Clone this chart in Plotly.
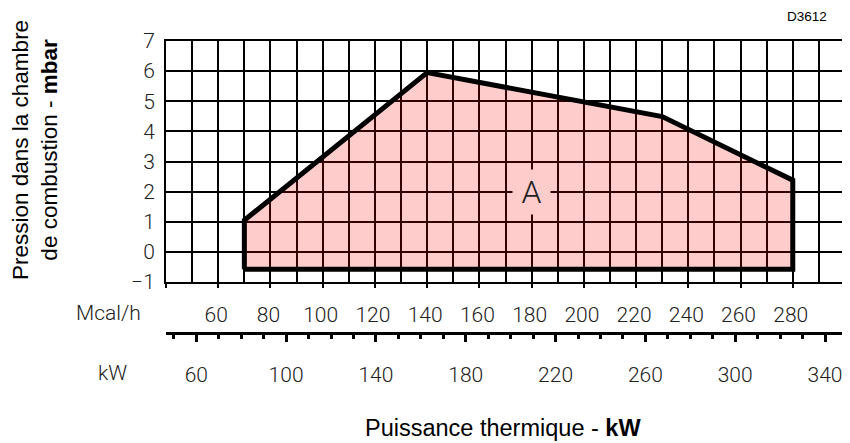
import plotly.graph_objects as go

# ---- data ----
# firing range outline, power in Mcal/h, pressure in mbar
outline_power_mcal = [70, 70, 140, 230, 280, 280, 70]
outline_pressure_mbar = [-0.58, 1.05, 5.95, 4.49, 2.38, -0.58, -0.58]

pressure_ticks = [-1, 0, 1, 2, 3, 4, 5, 6, 7]
mcal_ticks = [60, 80, 100, 120, 140, 160, 180, 200, 220, 240, 260, 280]
kw_ticks = [60, 100, 140, 180, 220, 260, 300, 340]

MCAL_TO_KW = 1.163
grid_range_mcal = [40, 300]
grid_range_kw = [grid_range_mcal[0] * MCAL_TO_KW, grid_range_mcal[1] * MCAL_TO_KW]

zone_label = "A"
drawing_id = "D3612"

# ---- styling ----
TICK_FONT = dict(family="Roboto", size=21, color="#222222", weight=300)
YTITLE_FONT = dict(family="Liberation Sans, Arial", size=22.5, color="#000")
XTITLE_FONT = dict(family="Liberation Sans, Arial", size=23.5, color="#000")
BLACK = "#000000"

# the page body adds an 8 px offset; lay the figure out in screen pixels
OFF = 8
W, H = 850 - OFF, 443 - OFF
L, T = 166 - OFF, 41 - OFF
R = W - (845 - OFF)
B = H - (383 - OFF)
PH = H - T - B
PW = W - L - R


def py(ypix):
    return (H - B - (ypix - OFF)) / PH


def px(xpix):
    return ((xpix - OFF) - L) / PW


fig = go.Figure()

fig.add_trace(go.Scatter(
    x=outline_power_mcal,
    y=outline_pressure_mbar,
    mode="lines",
    fill="toself",
    fillcolor="rgba(255,0,0,0.2)",
    line=dict(color=BLACK, width=5),
    hoverinfo="skip",
    showlegend=False,
))

# invisible carriers so the two scale axes get drawn
fig.add_trace(go.Scatter(x=mcal_ticks, y=[None] * len(mcal_ticks), xaxis="x2", yaxis="y",
                         mode="markers", marker=dict(opacity=0), hoverinfo="skip", showlegend=False))
fig.add_trace(go.Scatter(x=kw_ticks, y=[None] * len(kw_ticks), xaxis="x3", yaxis="y",
                         mode="markers", marker=dict(opacity=0), hoverinfo="skip", showlegend=False))

fig.update_layout(
    template="none",
    width=W,
    height=H,
    margin=dict(l=L, r=R, t=T, b=B, autoexpand=False),
    paper_bgcolor="white",
    plot_bgcolor="white",
    showlegend=False,
    xaxis=dict(
        range=grid_range_mcal,
        tick0=40,
        dtick=20,
        ticks="outside",
        ticklen=4,
        tickwidth=2,
        tickcolor=BLACK,
        showticklabels=False,
        showgrid=True,
        gridcolor=BLACK,
        gridwidth=2,
        minor=dict(dtick=10, tick0=40, showgrid=True, gridcolor=BLACK, gridwidth=2, ticks=""),
        showline=True,
        linecolor=BLACK,
        linewidth=2,
        mirror=True,
        zeroline=False,
        anchor="y",
        automargin=False,
    ),
    yaxis=dict(
        range=[-1, 7],
        tickvals=pressure_ticks,
        domain=[py(282), 1],
        showgrid=True,
        gridcolor=BLACK,
        gridwidth=2,
        zeroline=True,
        zerolinecolor=BLACK,
        zerolinewidth=2,
        showline=True,
        linecolor=BLACK,
        linewidth=2,
        mirror=True,
        ticks="",
        ticklabelstandoff=5,
        tickfont=TICK_FONT,
        automargin=False,
    ),
    # Mcal/h labels (above the scale line)
    xaxis2=dict(
        overlaying="x",
        anchor="free",
        position=py(333),
        side="top",
        range=grid_range_mcal,
        tickvals=mcal_ticks,
        ticks="",
        showline=False,
        showgrid=False,
        zeroline=False,
        ticklabelstandoff=7,
        ticklabelshift=-2,
        tickfont=TICK_FONT,
        automargin=False,
    ),
    # kW scale line with ticks and labels
    xaxis3=dict(
        overlaying="x",
        anchor="free",
        position=py(333),
        side="bottom",
        range=grid_range_kw,
        tickvals=kw_ticks,
        ticks="outside",
        ticklen=7,
        tickwidth=3,
        tickcolor=BLACK,
        minor=dict(dtick=10, tick0=0, ticks="outside", ticklen=4, tickwidth=3, tickcolor=BLACK, showgrid=False),
        showline=True,
        linecolor=BLACK,
        linewidth=3,
        showgrid=False,
        zeroline=False,
        ticklabelstandoff=15,
        tickfont=TICK_FONT,
        automargin=False,
    ),
)

annotations = [
    dict(text=zone_label, x=180, y=2, xref="x", yref="y", showarrow=False,
         font=dict(family="Roboto", size=32, color="#222222", weight=300),
         bgcolor="#FFCCCC", width=35, height=42, borderpad=1),
    dict(text="Mcal/h", x=px(108), y=py(313), xref="paper", yref="paper",
         showarrow=False, xanchor="center", yanchor="middle", font=TICK_FONT),
    dict(text="kW", x=px(112), y=py(373), xref="paper", yref="paper",
         showarrow=False, xanchor="center", yanchor="middle", font=TICK_FONT),
    dict(text="Puissance thermique - <b>kW</b>", x=px(503), y=py(428),
         xref="paper", yref="paper", showarrow=False, xanchor="center",
         yanchor="middle", font=XTITLE_FONT),
    dict(text="Pression dans la chambre<br>de combustion - <b>mbar</b>",
         x=px(35), y=py(150), xref="paper", yref="paper", textangle=-90,
         showarrow=False, xanchor="center", yanchor="middle", font=YTITLE_FONT),
    dict(text=drawing_id, x=px(807), y=py(8), xref="paper", yref="paper",
         showarrow=False, xanchor="center", yanchor="top", borderpad=0,
         font=dict(family="Liberation Sans, Arial", size=13.5, color="#000")),
]
fig.update_layout(annotations=annotations)

fig.write_html("out.html")
